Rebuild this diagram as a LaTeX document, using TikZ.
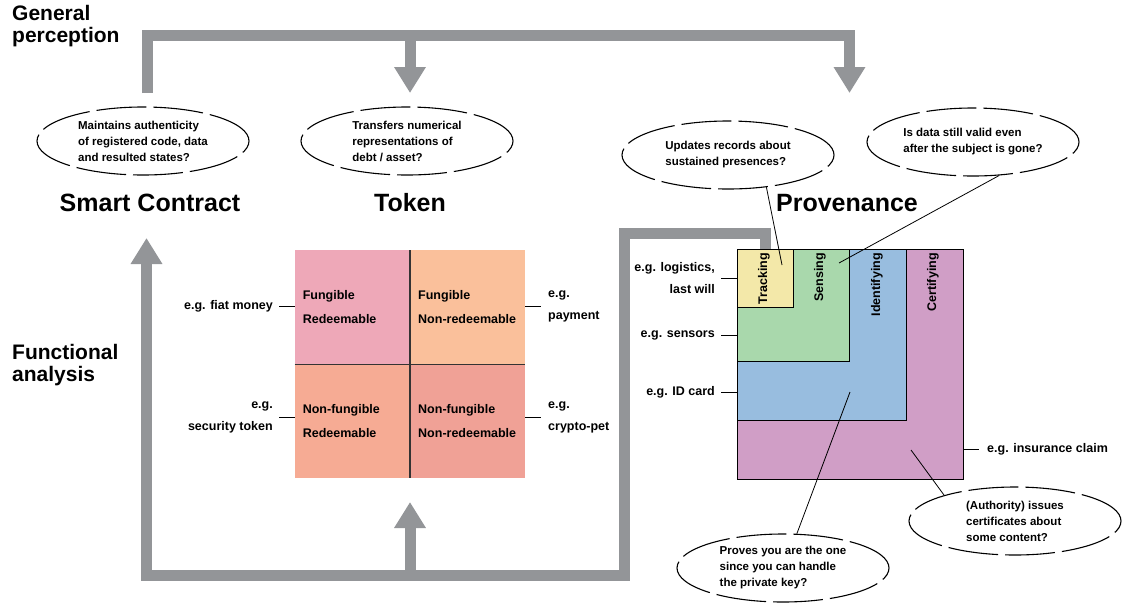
\documentclass[tikz,border=0pt]{standalone}
\usepackage{fontspec}
\setmainfont{Liberation Sans}
\usetikzlibrary{arrows.meta,positioning,shapes.geometric}
\definecolor{bargray}{HTML}{939598}
\definecolor{cFR}{HTML}{EEA8B8}
\definecolor{cFN}{HTML}{FAC09B}
\definecolor{cNR}{HTML}{F6AB94}
\definecolor{cNN}{HTML}{F0A196}
\definecolor{cTrack}{HTML}{F3E8A9}
\definecolor{cSens}{HTML}{A9D8AC}
\definecolor{cIdent}{HTML}{98BDDF}
\definecolor{cCert}{HTML}{D09EC6}
\tikzset{
	graybar/.style={draw=bargray,line width=11pt,line join=miter},
	bigtip/.style={-{Triangle[width=30pt,length=26pt]}},
	heading/.style={anchor=west,align=left,inner sep=0pt,font=\bfseries\fontsize{21}{22}\selectfont},
	title/.style={inner sep=0pt,font=\bfseries\fontsize{25}{28}\selectfont},
	cloudq/.style={ellipse,draw,line width=1.1pt,dash pattern=on 50pt off 7pt,minimum width=212pt,minimum height=68pt,inner sep=0pt,align=left,font=\bfseries\fontsize{11.5}{16}\selectfont},
	cell/.style={text width=99pt,inner xsep=8pt,inner ysep=0pt,minimum height=114pt,align=left,font=\bfseries\fontsize{12.5}{24}\selectfont},
	divider/.style={draw=black!80,line width=1.2pt},
	lbl/.style={inner sep=1pt,font=\bfseries\fontsize{12.5}{22}\selectfont},
	tick/.style={draw,line width=0.9pt},
	pbox/.style={draw,line width=0.8pt,anchor=north west,inner sep=0pt},
	vlbl/.style={rotate=90,anchor=east,inner sep=0pt,font=\bfseries\fontsize{12.5}{15}\selectfont},
	pointer/.style={draw,line width=0.8pt}
}
\begin{document}
\begin{tikzpicture}[x=1pt,y=-1pt]
	\useasboundingbox (0,0) rectangle (1129,603);
	\node[heading] (gp) at (12,26) {General\\perception};
	\node[heading] (fa) at (12,365) {Functional\\analysis};

	\path (147,93) coordinate (smUp)
	++ (0,-57.5) coordinate (topL)
	++ (263,0) coordinate (topT)
	++ (439.5,0) coordinate (topR);
	\coordinate (tokTip) at (410,93);
	\coordinate (provTip) at (849.5,93);
	\draw[graybar,bigtip] (smUp) -- (topL) -- (topR) -- (provTip);
	\draw[graybar,bigtip] (topT) -- (tokTip);

	\path (765,256) coordinate (provUp)
	++ (0,-22.5) coordinate (loopTR)
	++ (-140.5,0) coordinate (loopTL)
	++ (0,342) coordinate (loopBR)
	++ (-478,0) coordinate (loopBL)
	++ (0,-337.5) coordinate (smTip);
	\coordinate (loopMid) at (410,575.5);
	\coordinate (tokUp) at (410,502);
	\draw[graybar,bigtip] (provUp) -- (loopTR) -- (loopTL) -- (loopBR) -- (loopBL) -- (smTip);
	\draw[graybar,bigtip] (loopMid) -- (tokUp);

	\node[cloudq] (qSmart) at (143,141) {Maintains authenticity\\of registered code, data\\and resulted states?};
	\node[cloudq] (qToken) at (407,141) {Transfers numerical\\representations of\\debt / asset?};
	\node[cloudq] (qTrack) at (728,155) {Updates records about\\sustained presences?};
	\node[cloudq] (qSense) at (973,142) {Is data still valid even\\after the subject is gone?};
	\node[cloudq] (qIdent) at (783,568) {Proves you are the one\\since you can handle\\the private key?};
	\node[cloudq] (qCert) at (1015,521) {(Authority) issues\\certificates about\\some content?};

	\node[title] (tSmart) at (150,203) {Smart Contract};
	\node[title] (tToken) at (410,203) {Token};
	\node[title] (tProv) at (847,203) {Provenance};

	\node[cell,fill=cFR,anchor=north east] (fr) at (410,250) {Fungible\\Redeemable};
	\node[cell,fill=cFN,anchor=north west] (fn) at (410,250) {Fungible\\Non-redeemable};
	\node[cell,fill=cNR,anchor=north east] (nr) at (410,364) {Non-fungible\\Redeemable};
	\node[cell,fill=cNN,anchor=north west] (nn) at (410,364) {Non-fungible\\Non-redeemable};
	\draw[divider] (fr.north east) -- (nr.south east);
	\draw[divider] (fr.south west) -- (fn.south east);

	\node[lbl,anchor=east,align=right] (egFiat) at (274,306) {e.g. fiat money};
	\node[lbl,anchor=east,align=right] (egSec) at (274,417) {e.g.\\security token};
	\node[lbl,anchor=west,align=left] (egPay) at (547,306) {e.g.\\payment};
	\node[lbl,anchor=west,align=left] (egPet) at (547,417) {e.g.\\crypto-pet};
	\draw[tick] ([xshift=5pt]egFiat.east) -- (egFiat -| fr.west);
	\draw[tick] ([xshift=5pt]egSec.east) -- (egSec -| nr.west);
	\draw[tick] (egPay -| fn.east) -- ([xshift=-6pt]egPay.west);
	\draw[tick] (egPet -| nn.east) -- ([xshift=-6pt]egPet.west);

	\node[pbox,fill=cCert,minimum width=226pt,minimum height=230pt] (cert) at (737,249) {};
	\node[pbox,fill=cIdent,minimum width=169pt,minimum height=171pt] (ident) at (737,249) {};
	\node[pbox,fill=cSens,minimum width=112pt,minimum height=112pt] (sens) at (737,249) {};
	\node[pbox,fill=cTrack,minimum width=56pt,minimum height=58pt] (track) at (737,249) {};
	\node[vlbl] (lTrack) at (764,253) {Tracking};
	\node[vlbl] (lSens) at (820,253) {Sensing};
	\node[vlbl] (lIdent) at (877,253) {Identifying};
	\node[vlbl] (lCert) at (933,253) {Certifying};

	\node[lbl,anchor=east,align=right] (egLog) at (716,278) {e.g. logistics,\\last will};
	\node[lbl,anchor=east] (egSens) at (716,335) {e.g. sensors};
	\node[lbl,anchor=east] (egId) at (716,392) {e.g. ID card};
	\node[lbl,anchor=west] (egIns) at (986,449) {e.g. insurance claim};
	\draw[tick] ([xshift=5pt]egLog.east) -- (egLog -| track.west);
	\draw[tick] ([xshift=5pt]egSens.east) -- (egSens -| sens.west);
	\draw[tick] ([xshift=5pt]egId.east) -- (egId -| ident.west);
	\draw[tick] (egIns -| cert.east) -- ([xshift=-7pt]egIns.west);

	\coordinate (pTrack) at (782,265);
	\coordinate (pSens) at (839,263);
	\coordinate (pIdent) at (850,392);
	\coordinate (pCert) at (911,450);
	\draw[pointer] (qTrack.-40) -- (pTrack);
	\draw[pointer] (qSense.-52) -- (pSens);
	\draw[pointer] (qIdent.68) -- (pIdent);
	\draw[pointer] (qCert.160) -- (pCert);
\end{tikzpicture}
\end{document}
